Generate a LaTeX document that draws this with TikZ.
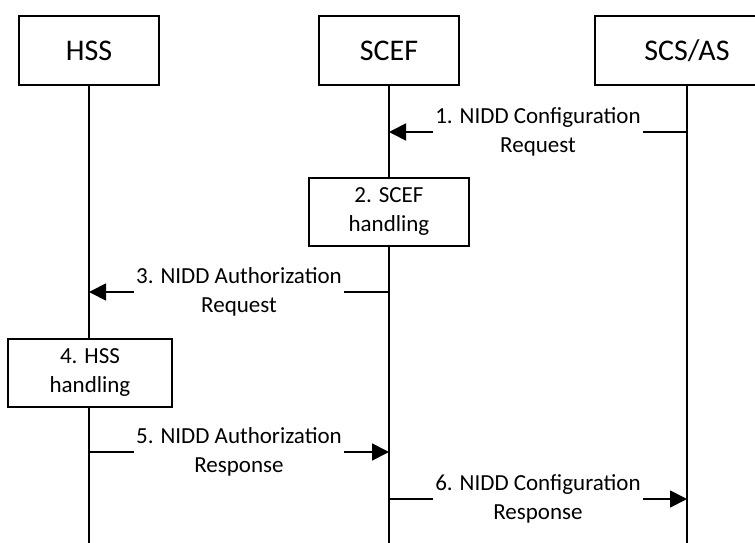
\documentclass[tikz,border=0pt]{standalone}
\usepackage{fontspec}
\setmainfont{Carlito}
\usetikzlibrary{arrows.meta}

\begin{document}
\begin{tikzpicture}[x=1pt,y=-1pt,
  entity/.style={shape=rectangle,draw=black,line width=1.8pt,minimum width=140pt,minimum height=69pt,font=\fontsize{30}{36}\selectfont},
  action/.style={shape=rectangle,draw=black,fill=white,line width=1.8pt,minimum height=68pt,align=center,inner sep=0pt,font=\fontsize{23}{29}\selectfont},
  life/.style={line width=1.8pt},
  msg/.style={line width=1.8pt,-{Triangle[length=17pt,width=17pt]}},
  msglabel/.style={fill=white,inner xsep=2pt,inner ysep=0pt,align=center,font=\fontsize{23}{29}\selectfont}]
  \clip (0,0) rectangle (755,543);

  \node[entity] (hss) at (89,50.5) {HSS};
  \node[entity] (scef) at (389,50.5) {SCEF};
  \node[entity,minimum width=184pt] (scsas) at (687,50.5) {SCS/AS};

  \coordinate (hssend) at (89,545);
  \coordinate (scefend) at (389,545);
  \coordinate (scsasend) at (687,545);

  \draw[life] (hss) -- (hssend);
  \draw[life] (scef) -- (scefend);
  \draw[life] (scsas) -- (scsasend);

  \coordinate (m1a) at (687,132);
  \coordinate (m1b) at (389,132);
  \coordinate (m3a) at (389,292);
  \coordinate (m3b) at (89,292);
  \coordinate (m5a) at (89,452);
  \coordinate (m5b) at (389,452);
  \coordinate (m6a) at (389,499);
  \coordinate (m6b) at (687,499);

  \node[action,minimum width=160pt] (scefhdl) at (389,212) {2. SCEF\\handling};
  \node[action,minimum width=164pt] (hsshdl) at (90,373) {4. HSS\\handling};

  \draw[msg] (m1a) to node[msglabel] {1. NIDD Configuration\\Request} (m1b);
  \draw[msg] (m3a) to node[msglabel] {3. NIDD Authorization\\Request} (m3b);
  \draw[msg] (m5a) to node[msglabel] {5. NIDD Authorization\\Response} (m5b);
  \draw[msg] (m6a) to node[msglabel] {6. NIDD Configuration\\Response} (m6b);
\end{tikzpicture}
\end{document}
